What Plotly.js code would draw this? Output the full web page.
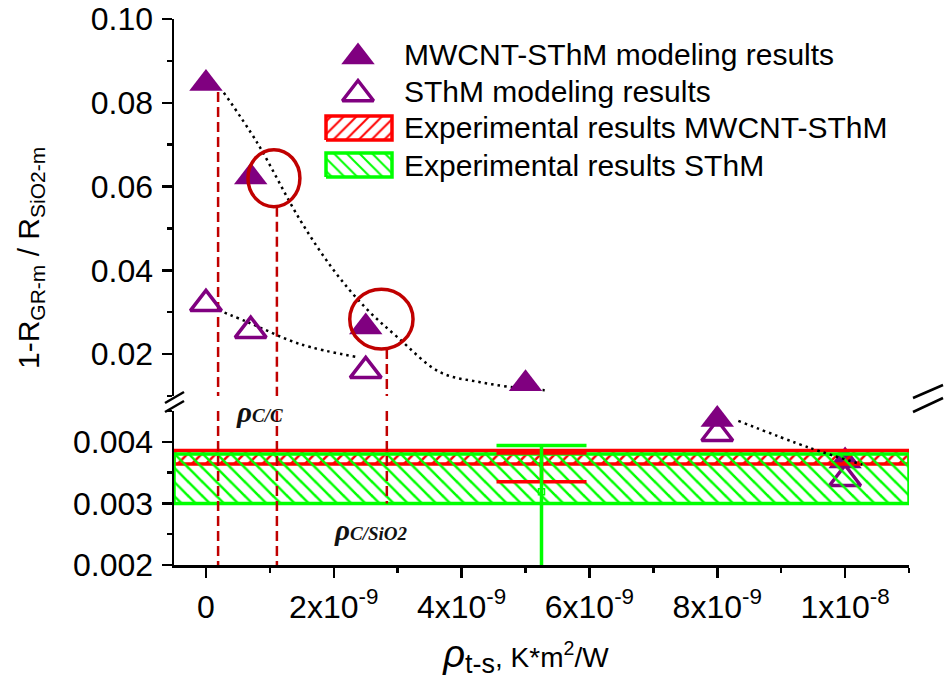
<!DOCTYPE html>
<html>
<head>
<meta charset="utf-8">
<script src="https://cdn.plot.ly/plotly-3.0.1.min.js"></script>
<style>html,body{margin:0;padding:0;background:#fff;}#chart{width:948px;height:692px;}</style>
</head>
<body>
<div id="chart"></div>
<script>
// ---------------- data ----------------
const xMWCNT = [0, 0.7e-9, 2.5e-9, 5e-9, 8e-9, 1e-8];
const yMWCNT = [0.0846, 0.0623, 0.0265, 0.0129, 0.00436, 0.00369];
const xSThM = [0, 0.7e-9, 2.5e-9, 8e-9, 1e-8];
const ySThM = [0.0320, 0.0256, 0.0160, 0.00413, 0.00340];

const trendMWx = [0.28e-9, 0.8e-9, 1.47e-9, 2.0e-9, 2.5e-9, 3.0e-9, 3.66e-9, 4.29e-9, 4.9e-9, 5.3e-9];
const trendMWy = [0.0824, 0.0705, 0.0521, 0.0400, 0.0310, 0.0240, 0.0157, 0.0133, 0.0119, 0.0114];
const trendSx = [0.19e-9, 0.66e-9, 1.47e-9, 2.36e-9];
const trendSy = [0.0305, 0.0276, 0.0224, 0.0193];
const trendLowX = [8.33e-9, 9.45e-9, 10.27e-9];
const trendLowY = [0.00434, 0.00390, 0.00363];

const bandMWCNT = [0.00364, 0.00386];   // experimental MWCNT-SThM  [low, high]
const bandSThM = [0.00300, 0.00380];    // experimental SThM [low, high]

const errX = [5.25e-9];
const errMWy = [0.00362], errMWplus = [0.00020], errMWminus = [0.00027];
const errSy = [0.00319], errSplus = [0.00075], errSminus = [0.00150];

const rhoX = [0.19e-9, 1.11e-9, 2.83e-9];
const rhoTop = [0.0826, 0.0552, 0.0212];
const rhoBottom = [0.002, 0.002, 0.003];

const circX0 = [0.657e-9, 2.25e-9], circX1 = [1.47e-9, 3.24e-9];
const circY0 = [0.0552, 0.0212], circY1 = [0.0688, 0.0355];

const xTickVals = [0, 2e-9, 4e-9, 6e-9, 8e-9, 1e-8];
const xTickText = ['0', '2x10<sup>-9</sup>', '4x10<sup>-9</sup>', '6x10<sup>-9</sup>', '8x10<sup>-9</sup>', '1x10<sup>-8</sup>'];
const legendNames = ['MWCNT-SThM modeling results', 'SThM modeling results', 'Experimental results MWCNT-SThM', 'Experimental results SThM'];

// ---------------- layout helpers ----------------
const W = 948, H = 692, L = 174, R = 909, T = 19, B = 565;
const upperRange = [0.01, 0.10], lowerRange = [0.002, 0.0045];
const xRange = [-0.5e-9, 11e-9];
const upperBottomPx = 396, lowerTopPx = 411;
const px = p => (p - L) / (R - L);
const py = p => (B - p) / (B - T);

const purple = '#800080', red = '#ff0000', green = '#00ff00', dred = '#c00000';
const FONT = 'Liberation Sans, Arial, sans-serif';

const traces = [];
function splitPanel(xs, ys) {
  const up = {x: [], y: []}, lo = {x: [], y: []};
  xs.forEach((x, i) => { if (ys[i] >= upperRange[0]) { up.x.push(x); up.y.push(ys[i]); } else { lo.x.push(x); lo.y.push(ys[i]); } });
  return [up, lo];
}
const [mwUp, mwLo] = splitPanel(xMWCNT, yMWCNT);
const [sUp, sLo] = splitPanel(xSThM, ySThM);
const mkFilled = {symbol: 'triangle-up', size: 29, color: purple, line: {width: 0}};
const mkOpen = {symbol: 'triangle-up-open', size: 27, color: purple, line: {width: 3.5, color: purple}};

// markers (lower panel first so that bands are drawn above them)
traces.push({x: mwLo.x, y: mwLo.y, xaxis: 'x', yaxis: 'y', mode: 'markers', marker: mkFilled, showlegend: false, cliponaxis: false});
traces.push({x: sLo.x, y: sLo.y, xaxis: 'x', yaxis: 'y', mode: 'markers', marker: mkOpen, showlegend: false, cliponaxis: false});

// bands
function bandTrace(b, color, shape) {
  return {x: [xRange[0], xRange[1], xRange[1], xRange[0], xRange[0]], y: [b[0], b[0], b[1], b[1], b[0]],
    xaxis: 'x', yaxis: 'y', mode: 'lines', fill: 'toself', fillcolor: 'rgba(0,0,0,0)',
    fillpattern: {shape: shape, fgcolor: color, bgcolor: 'rgba(0,0,0,0)', size: 10, solidity: 0.25},
    line: {color: color, width: 3.5}, showlegend: false, hoverinfo: 'skip'};
}
traces.push(bandTrace(bandMWCNT, red, '/'));
traces.push(bandTrace(bandSThM, green, '\\'));

// error bars
traces.push({x: errX, y: errMWy, xaxis: 'x', yaxis: 'y', mode: 'markers', marker: {size: 4, color: red},
  error_y: {type: 'data', symmetric: false, array: errMWplus, arrayminus: errMWminus, color: red, thickness: 3.5, width: 45}, showlegend: false});
traces.push({x: errX, y: errSy, xaxis: 'x', yaxis: 'y', mode: 'markers', marker: {size: 6, symbol: 'square-open', color: green, line: {width: 1.5, color: green}},
  error_y: {type: 'data', symmetric: false, array: errSplus, arrayminus: errSminus, color: green, thickness: 3.5, width: 45}, showlegend: false});

// dashed vertical lines
rhoX.forEach((x, i) => {
  if (rhoTop[i] > upperRange[0]) {
    traces.push({x: [x, x], y: [rhoTop[i], upperRange[0]], xaxis: 'x', yaxis: 'y2', mode: 'lines',
      line: {color: dred, width: 2.5, dash: '10px,5px'}, showlegend: false, hoverinfo: 'skip'});
  }
  traces.push({x: [x, x], y: [Math.min(rhoTop[i], lowerRange[1]), rhoBottom[i]], xaxis: 'x', yaxis: 'y', mode: 'lines',
    line: {color: dred, width: 2.5, dash: '10px,5px'}, showlegend: false, hoverinfo: 'skip'});
});

// dotted trends
const dotLine = {color: 'black', width: 2.5, dash: '2.5px,4px', shape: 'spline'};
traces.push({x: trendMWx, y: trendMWy, xaxis: 'x', yaxis: 'y2', mode: 'lines', line: dotLine, showlegend: false});
traces.push({x: trendSx, y: trendSy, xaxis: 'x', yaxis: 'y2', mode: 'lines', line: dotLine, showlegend: false});
traces.push({x: trendLowX, y: trendLowY, xaxis: 'x', yaxis: 'y', mode: 'lines', line: dotLine, showlegend: false});

// upper-panel markers
traces.push({x: mwUp.x, y: mwUp.y, xaxis: 'x', yaxis: 'y2', mode: 'markers', marker: mkFilled, name: legendNames[0], showlegend: false, cliponaxis: false});
traces.push({x: sUp.x, y: sUp.y, xaxis: 'x', yaxis: 'y2', mode: 'markers', marker: mkOpen, name: legendNames[1], showlegend: false, cliponaxis: false});

// ---------------- hand-made legend (auxiliary axes 0..1 over the upper panel) ----------------
const lu = p => (p - L) / (R - L);
const lv = p => (upperBottomPx - p) / (upperBottomPx - T);
traces.push({x: [lu(358)], y: [lv(57)], xaxis: 'x5', yaxis: 'y5', mode: 'markers', marker: mkFilled, showlegend: false, hoverinfo: 'skip'});
traces.push({x: [lu(358)], y: [lv(94)], xaxis: 'x5', yaxis: 'y5', mode: 'markers', marker: mkOpen, showlegend: false, hoverinfo: 'skip'});
function legBox(top, bottom, color, shape) {
  const u0 = lu(326), u1 = lu(392), v0 = lv(bottom), v1 = lv(top);
  return {x: [u0, u1, u1, u0, u0], y: [v0, v0, v1, v1, v0], xaxis: 'x5', yaxis: 'y5', mode: 'lines', fill: 'toself',
    fillcolor: 'rgba(0,0,0,0)', fillpattern: {shape: shape, fgcolor: color, bgcolor: 'rgba(0,0,0,0)', size: 9, solidity: 0.22},
    line: {color: color, width: 3.5}, showlegend: false, hoverinfo: 'skip'};
}
traces.push(legBox(116, 140, red, '/'));
traces.push(legBox(153, 177, green, '\\'));

const legendY = [54, 92, 128, 165];
const annotations = legendNames.map((t, i) => ({
  text: t, xref: 'paper', yref: 'paper', x: px(402), y: py(legendY[i]), xanchor: 'left', yanchor: 'middle',
  showarrow: false, font: {family: FONT, size: 30, color: 'black'}
}));
annotations.push({text: '1-R<sub>GR-m</sub> / R<sub>SiO2-m</sub>', textangle: -90, xref: 'paper', yref: 'paper',
  x: px(30), y: py(258), xanchor: 'center', yanchor: 'middle', showarrow: false, font: {family: FONT, size: 30, color: 'black'}});
annotations.push({text: '<b><i>ρ<span style="font-size:19px">C/C</span></i></b>', xref: 'paper', yref: 'paper',
  x: px(259), y: py(412), xanchor: 'center', yanchor: 'middle', showarrow: false, font: {family: 'Liberation Serif, Times New Roman, serif', size: 29, color: '#111'}});
annotations.push({text: '<b><i>ρ<span style="font-size:19px">C/SiO2</span></i></b>', xref: 'paper', yref: 'paper',
  x: px(370), y: py(530), xanchor: 'center', yanchor: 'middle', showarrow: false, font: {family: 'Liberation Serif, Times New Roman, serif', size: 29, color: '#111'}});

// ---------------- shapes: circles and axis-break marks ----------------
const shapes = circX0.map((x0, i) => ({type: 'circle', xref: 'x', yref: 'y2', x0: x0, x1: circX1[i], y0: circY0[i], y1: circY1[i],
  line: {color: dred, width: 3.5}}));
const brk = (a, b, c, d) => ({type: 'line', xref: 'paper', yref: 'paper', x0: px(a), y0: py(b), x1: px(c), y1: py(d), line: {color: 'black', width: 2.5}});
shapes.push(brk(165, 403, 184, 392), brk(165, 412, 184, 401), brk(913, 398, 943, 385), brk(913, 412, 943, 398));

const axLine = {showline: true, linecolor: 'black', linewidth: 2.5, showgrid: false, zeroline: false};
const tickFont = {family: FONT, size: 32, color: 'black'};
const yDomLow = [0, py(lowerTopPx)], yDomUp = [py(upperBottomPx), 1];

const layout = {
  width: W, height: H, margin: {l: L, r: W - R, t: T, b: H - B},
  paper_bgcolor: 'white', plot_bgcolor: 'rgba(0,0,0,0)', showlegend: false,
  font: {family: FONT, color: 'black'},
  xaxis: Object.assign({}, axLine, {range: xRange, anchor: 'y', tickmode: 'array', tickvals: xTickVals, ticktext: xTickText,
    ticks: 'outside', ticklen: 10, tickwidth: 2.5, tickcolor: 'black', tickfont: tickFont, ticklabelstandoff: 2,
    minor: {ticks: 'outside', ticklen: 5, tickwidth: 2.5, tickcolor: 'black', tick0: 0, dtick: 1e-9},
    title: {text: '<span style="font-size:38px"><i>ρ</i></span><sub><span style="font-size:27px">t-s</span></sub>, K*m<sup>2</sup>/W&nbsp;&nbsp;&nbsp;&nbsp;',
      font: {family: FONT, size: 28}, standoff: 24}}),
  xaxis2: Object.assign({}, axLine, {overlaying: 'x', anchor: 'y2', side: 'top', range: xRange, showticklabels: false,
    ticks: 'inside', ticklen: 10, tickwidth: 2.5, tickcolor: 'black', tickmode: 'linear', tick0: 1.78e-9, dtick: 2.31e-9,
    minor: {ticks: 'inside', ticklen: 5, tickwidth: 2.5, tickcolor: 'black', tick0: 0.625e-9, dtick: 1.155e-9}}),
  xaxis5: {overlaying: 'x', anchor: 'y5', range: [0, 1], visible: false, fixedrange: true},
  yaxis: Object.assign({}, axLine, {domain: yDomLow, range: lowerRange, anchor: 'x', tickmode: 'array', tickvals: [0.002, 0.003, 0.004],
    ticktext: ['0.002', '0.003', '0.004'], ticks: 'outside', ticklen: 10, tickwidth: 2.5, tickcolor: 'black', tickfont: tickFont, ticklabelstandoff: 2,
    minor: {ticks: 'outside', ticklen: 5, tickwidth: 2.5, tickcolor: 'black', tick0: 0.002, dtick: 0.0005}}),
  yaxis2: Object.assign({}, axLine, {domain: yDomUp, range: upperRange, anchor: 'x', tickmode: 'linear', tick0: 0.02, dtick: 0.02,
    tickformat: '.2f', ticks: 'outside', ticklen: 10, tickwidth: 2.5, tickcolor: 'black', tickfont: tickFont, ticklabelstandoff: 2,
    minor: {ticks: 'outside', ticklen: 5, tickwidth: 2.5, tickcolor: 'black', tick0: 0.01, dtick: 0.01}}),
  yaxis3: Object.assign({}, axLine, {overlaying: 'y2', side: 'right', anchor: 'x', range: upperRange, showticklabels: false,
    ticks: 'inside', ticklen: 10, tickwidth: 2.5, tickcolor: 'black', tickmode: 'linear', tick0: 0.0217, dtick: 0.02625,
    minor: {ticks: 'inside', ticklen: 5, tickwidth: 2.5, tickcolor: 'black', tick0: 0.0217, dtick: 0.013125}}),
  yaxis4: Object.assign({}, axLine, {overlaying: 'y', side: 'right', anchor: 'x', range: lowerRange, showticklabels: false,
    ticks: 'inside', ticklen: 10, tickwidth: 2.5, tickcolor: 'black', tickmode: 'linear', tick0: 0.00377, dtick: 0.001786,
    minor: {ticks: 'inside', ticklen: 5, tickwidth: 2.5, tickcolor: 'black', tick0: 0.00377, dtick: 0.000893}}),
  yaxis5: {overlaying: 'y2', anchor: 'x5', range: [0, 1], visible: false, fixedrange: true},
  annotations: annotations,
  shapes: shapes
};

Plotly.newPlot('chart', traces, layout, {displayModeBar: false, staticPlot: true});
</script>
</body>
</html>
